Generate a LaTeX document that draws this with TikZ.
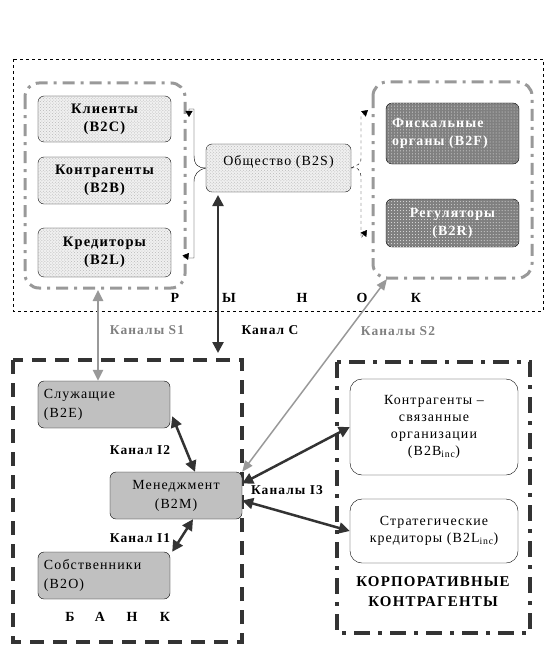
\documentclass[tikz,border=0pt]{standalone}
\usepackage{fontspec}
\setmainfont{Liberation Serif}[LetterSpace=8]
\usetikzlibrary{positioning, patterns, arrows.meta}
\definecolor{groupgray}{HTML}{999999}
\definecolor{darkline}{HTML}{333333}
\definecolor{boxgray}{HTML}{C0C0C0}
\definecolor{fiscgray}{HTML}{808080}
\tikzset{
  market/.style={draw, rounded corners=6bp, fill=gray!12, postaction={pattern=crosshatch dots, pattern color=gray!55}, align=center, font=\fontsize{14.5}{18}\selectfont\bfseries, minimum width=133bp, inner sep=1bp},
  fiscal/.style={draw, rounded corners=6bp, fill=fiscgray, postaction={pattern=dots, pattern color=white!80!fiscgray}, text=white, font=\fontsize{14}{18}\selectfont\bfseries, minimum width=133bp},
  bankbox/.style={draw, rounded corners=6bp, fill=boxgray, font=\fontsize{14}{19}\selectfont, minimum width=132bp, minimum height=47bp},
  corpbox/.style={draw, rounded corners=12bp, fill=white, align=center, font=\fontsize{14}{17}\selectfont, minimum width=168bp},
  grayring/.style={draw=groupgray, line width=3bp, rounded corners=14bp, dash pattern=on 12bp off 6bp on 3bp off 6bp},
  chan/.style={{Triangle[length=11bp,width=11bp]}-{Triangle[length=11bp,width=11bp]}, line width=2.5bp, draw=darkline},
  graychan/.style={{Triangle[length=11bp,width=10bp]}-{Triangle[length=11bp,width=10bp]}, line width=2.5bp, draw=groupgray, color=groupgray},
  lbl/.style={font=\fontsize{13.5}{16}\selectfont\bfseries},
  letter/.style={font=\fontsize{14}{16}\selectfont\bfseries}
}
\begin{document}
\begin{tikzpicture}[x=1bp, y=-1bp]
  \useasboundingbox (0,0) rectangle (555,662);

  % market
  \draw[dashed, thin] (13,59) rectangle (543,311);
  \draw[grayring] (25,83) rectangle (185,288);
  \draw[grayring] (373,82) rectangle (532,278);

  \node[market, minimum height=46bp] (cli) at (104.5,119) {Клиенты\\(B2C)};
  \node[market, minimum height=47bp] (ctr) at (104.5,180.5) {Контрагенты\\(B2B)};
  \node[market, minimum height=49bp] (crd) at (104.5,252.5) {Кредиторы\\(B2L)};
  \node[market, minimum width=145bp, minimum height=48bp, text depth=15bp, font=\fontsize{14}{16}\selectfont] (soc) at (278.5,168) {Общество (B2S)};

  \node[fiscal, minimum height=61bp, align=left, text width=121bp] (fis) at (452.5,133.5) {Фискальные\\органы (B2F)};
  \node[fiscal, minimum height=48bp, align=center] (reg) at (452.5,223) {Регуляторы\\(B2R)};

  % braces from society
  \draw[thin, -{Triangle[length=6bp,width=7bp]}] (soc.west) .. controls (198,168) and (194,165) .. (194,155) -- (194,109) -- (189,109) -- (189,117);
  \draw[thin, -{Triangle[length=6bp,width=7bp]}] (soc.west) .. controls (198,170) and (194,174) .. (194,182) -- (194,258) -- (185,258) -- (189,253);
  \draw[thin, dashed, -{Triangle[length=6bp,width=7bp]}] (soc.east) .. controls (357,164) and (361,166) .. (361,158) -- (361,116) -- (368,110);
  \draw[thin, dashed, -{Triangle[length=6bp,width=7bp]}] (soc.east) .. controls (357,166) and (361,170) .. (361,178) -- (361,238) -- (367,230);

  \node[letter] (m1) at (175,298) {Р};
  \node[letter] (m2) at (229,298) {Ы};
  \node[letter] (m3) at (302,298) {Н};
  \node[letter] (m4) at (362,298) {О};
  \node[letter] (m5) at (416,298) {К};

  % bank
  \draw[darkline, line width=4bp, dash pattern=on 14bp off 9bp] (13,360) rectangle (242,642);
  \node[bankbox, align=left, text width=120bp] (emp) at (104,404.5) {Служащие\\(B2E)};
  \node[bankbox, align=center] (mgm) at (176,495.5) {Менеджмент\\(B2M)};
  \node[bankbox, align=left, text width=120bp] (own) at (104,575.5) {Собственники\\(B2O)};

  \node[letter] (b1) at (70,617) {Б};
  \node[letter] (b2) at (100,617) {А};
  \node[letter] (b3) at (132,617) {Н};
  \node[letter] (b4) at (165,617) {К};

  % corporate partners
  \draw[darkline, line width=4bp, dash pattern=on 16bp off 8bp on 4bp off 8bp] (337,362) rectangle (530,633);
  \node[corpbox, minimum height=96bp] (rel) at (434,427) {Контрагенты –\\связанные\\организации\\(B2B\textsubscript{inc})};
  \node[corpbox, minimum height=64bp] (str) at (434,531) {Стратегические\\кредиторы (B2L\textsubscript{inc})};
  \node[lbl, align=center, font=\fontsize{15}{20}\selectfont\bfseries] (corp) at (433,592) {КОРПОРАТИВНЫЕ\\КОНТРАГЕНТЫ};

  % channels
  \coordinate (s1top) at (98,290);
  \coordinate (ctop) at (218,195);
  \coordinate (cbot) at (218,353);
  \coordinate (s2top) at (387,279);
  \draw[graychan] (s1top) -- (s1top |- emp.north);
  \draw[chan] (ctop) -- (cbot);
  \draw[groupgray, line width=1.5bp, {Triangle[length=11bp,width=9bp]}-{Triangle[length=11bp,width=9bp]}] (mgm.north east) -- (s2top);
  \draw[chan] (emp.south east) ++(2,-12) coordinate (i2a) (i2a) -- (mgm.north -| 195,0);
  \draw[chan] (own.north east) ++(2,0) coordinate (i1a) (i1a) -- (mgm.south -| 193,0);
  \draw[chan] (mgm.east) ++(0,-12) coordinate (i3a) (i3a) -- (rel.west |- 0,427);
  \draw[chan] (mgm.east) ++(0,5) coordinate (i3b) (i3b) -- (str.west);

  \node[lbl, text=gray] (ls1) at (147,330) {Каналы S1};
  \node[lbl] (lc) at (270,330) {Канал С};
  \node[lbl, text=gray] (ls2) at (398,331) {Каналы S2};
  \node[lbl] (li2) at (140,450) {Канал I2};
  \node[lbl] (li1) at (140,538) {Канал I1};
  \node[lbl] (li3) at (287,490) {Каналы I3};
\end{tikzpicture}
\end{document}
